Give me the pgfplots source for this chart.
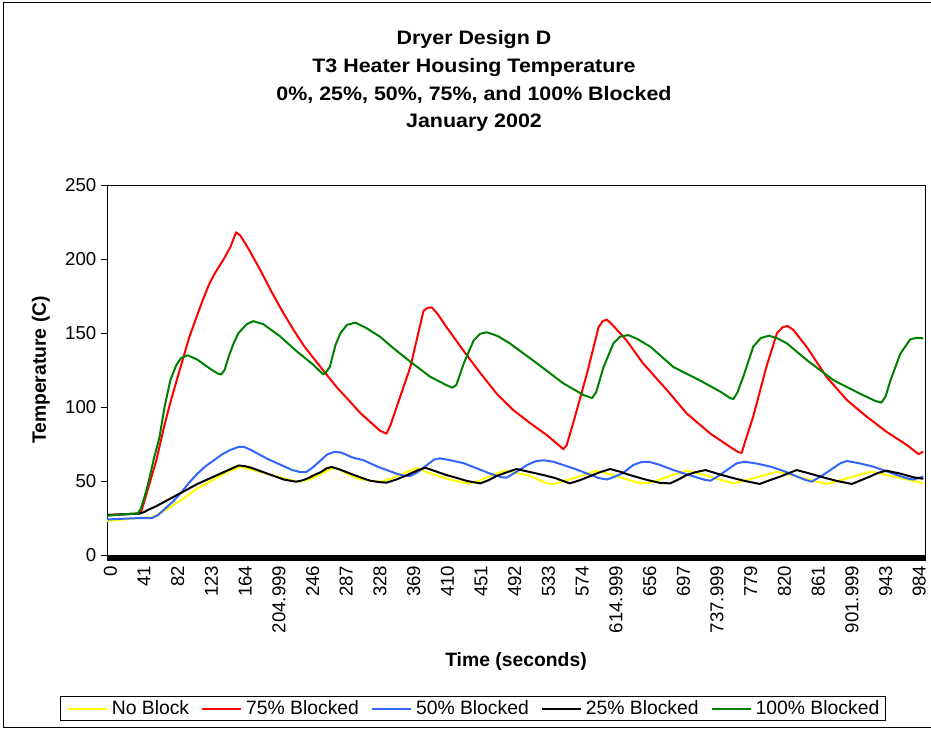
\documentclass[border=0pt]{standalone}
\usepackage{fontspec}
\setmainfont{Liberation Sans}
\newfontfamily\widefont[FakeStretch=1.1]{Liberation Sans}
\usepackage{pgfplots}
\pgfplotsset{compat=1.18}
\definecolor{cyel}{RGB}{255,255,0}
\definecolor{cred}{RGB}{255,0,0}
\definecolor{cblue}{RGB}{51,102,255}
\definecolor{cgreen}{RGB}{0,128,0}
\begin{document}
\begin{tikzpicture}
\useasboundingbox (0pt,0pt) rectangle (698.25pt,546.75pt);
\draw[line width=0.75pt] (699pt,544.5pt) -- (2.25pt,544.5pt) -- (2.25pt,1.1pt) -- (699pt,1.1pt);
\node[font=\widefont\bfseries\fontsize{14.6}{16}\selectfont, anchor=base] at (355.5pt,513pt) {Dryer Design D};
\node[font=\widefont\bfseries\fontsize{14.6}{16}\selectfont, anchor=base] at (355.5pt,492pt) {T3 Heater Housing Temperature};
\node[font=\widefont\bfseries\fontsize{14.6}{16}\selectfont, anchor=base] at (355.5pt,471.5pt) {0\%, 25\%, 50\%, 75\%, and 100\% Blocked};
\node[font=\widefont\bfseries\fontsize{14.6}{16}\selectfont, anchor=base] at (355.5pt,451pt) {January 2002};
\node[font=\bfseries\fontsize{14.5}{16}\selectfont, rotate=90] at (30.75pt,269.25pt) {Temperature (C)};
\node[font=\bfseries\fontsize{14.5}{16}\selectfont, anchor=base] at (387pt,47.25pt) {Time (seconds)};
\begin{axis}[
  at={(80.25pt,130.5pt)}, anchor=south west, scale only axis,
  width=613.5pt, height=277.5pt,
  xmin=0, xmax=995, ymin=0, ymax=250,
  axis line style={line width=0.75pt},
  tick align=outside, xtick pos=bottom, ytick pos=left,
  major tick length=4.5pt, minor tick length=4.5pt,
  every tick/.append style={draw=black, line width=0.45pt},
  xtick={0,41,...,984},
  xticklabels={0,41,82,123,164,204.999,246,287,328,369,410,451,492,533,574,614.999,656,697,737.999,779,820,861,901.999,943,984},
  minor x tick num=40,
  extra x ticks={985,986,987,988,989,990,991,992,993,994,995},
  extra x tick labels={},
  ytick={0,50,...,250}, yticklabels={0,50,100,150,200,250},
  ticklabel style={font=\fontsize{14}{16}\selectfont},
  xticklabel style={rotate=90, anchor=east, yshift=-2.5pt},
  every axis plot/.append style={line width=1.5pt, line join=round, no markers},
  legend columns=5,
  legend style={at={(axis description cs:0.4475,-0.415)}, anchor=center, draw=black, line width=0.75pt,
    font=\fontsize{14.5}{16}\selectfont, inner xsep=5pt, inner ysep=3pt,
    nodes={inner sep=0pt},
    /tikz/every odd column/.append style={column sep=3pt},
    /tikz/every even column/.append style={column sep=9pt}},
  legend image code/.code={\draw[#1] (0pt,0pt) -- (29.25pt,0pt);},
]
\addplot[cyel] coordinates {(0,23)(20,24)(40,25)(55,25.5)(62,27.5)(70,30)(80,33.5)(90,37)(100,41)(110,45)(120,48)(130,51)(140,54)(150,57)(162,59.5)(170,58.5)(180,57)(190,55.5)(200,54)(210,52.5)(220,51)(235,49.5)(242,50.5)(250,52)(258,54)(265,56)(272,58.3)(280,58.5)(292,55)(304,51.8)(318,50.3)(332,49.5)(345,51.5)(356,54)(366,56.5)(377,58.6)(390,55.8)(405,53)(420,50.5)(434,48.9)(442,48.4)(454,50.5)(466,53.4)(476,55.5)(486,57)(500,55.2)(515,53.4)(525,50.8)(535,48.4)(543,48)(555,49.8)(567,51.8)(582,54.5)(596,57)(612,54.5)(628,51.8)(645,49)(657,48.4)(667,50)(677,51.8)(690,54.5)(705,57)(720,55)(734,53)(748,50.5)(762,48.4)(774,50)(786,51.8)(800,54)(815,56.3)(832,54)(847,51.8)(862,49.8)(876,48)(888,49.8)(900,51.8)(914,54)(928,56.3)(945,54.5)(961,52.5)(978,50.5)(993,48.4)};
\addlegendentry{No Block}
\addplot[cred] coordinates {(0,27)(20,27.5)(38,28)(42,30)(50,45)(60,64)(70,88)(77,103)(90,128)(100,147)(109,161)(117,173)(125,184)(133,192)(141,199)(150,208)(157,218)(162,216)(172,207)(186,193)(200,178)(214,164)(227,152)(240,141)(254,131)(267,122)(280,113)(295,104)(308,96)(322,89)(332,84)(340,82)(345,88)(356,106)(369,127)(385,165)(390,167)(395,167.3)(402,163)(413,154)(433,138.5)(454,123)(474,109)(494,98)(515,89)(535,81)(550,74)(555,71.5)(559,74)(567,89)(584,123)(598,154)(603,158)(608,159)(614,156)(632,145)(652,129.5)(681,111.5)(705,95.7)(734,82)(758,73)(768,69.5)(772,69)(777,78)(786,93.5)(802,127)(815,150)(822,154)(828,154.7)(835,152)(851,140.7)(875,120.5)(900,104.7)(924,93.5)(948,83.3)(973,74.3)(987,68.2)(993,69.8)};
\addlegendentry{75\% Blocked}
\addplot[cblue] coordinates {(0,24)(20,24.5)(40,25)(55,25)(62,27)(70,31)(80,36)(90,42)(100,49)(110,55)(120,60)(130,64)(140,68)(150,71)(160,73)(167,73)(175,71)(185,68)(195,65)(205,62.5)(215,60)(225,57.5)(235,56)(242,56)(250,59)(260,64)(268,68)(277,69.7)(285,69.2)(298,66)(312,64)(330,59.5)(352,55)(362,53.5)(369,53.4)(378,56)(389,60.8)(398,64.5)(405,65.3)(418,64)(434,62)(450,58.5)(466,55)(480,52.5)(486,52.3)(496,55.5)(511,60.8)(522,63.5)(531,64)(543,63)(555,60.8)(570,58)(584,55)(598,52)(608,51)(618,53)(628,55.5)(640,60.8)(650,62.8)(659,63)(672,61)(689,57.4)(705,54.5)(717,52.5)(727,50.8)(734,50.2)(744,53.5)(754,57.4)(766,62)(776,63)(790,61.8)(807,59.7)(822,57)(835,54)(848,51)(857,49.5)(868,53)(880,57.4)(892,62)(900,63.5)(915,62)(932,59.7)(946,57)(961,54)(975,51.5)(981,51)(993,53)};
\addlegendentry{50\% Blocked}
\addplot[black] coordinates {(0,27)(20,27.5)(40,28)(45,29)(50,30.5)(60,33)(70,36)(80,39)(90,42)(100,45)(110,48)(120,50.5)(130,53)(140,55.5)(150,58)(160,60.5)(168,60)(175,59)(185,57)(195,55)(205,53)(215,51)(225,50)(230,49.5)(238,50.5)(245,52)(252,54)(260,56)(267,58.5)(273,59.5)(282,58)(296,55)(308,52.5)(320,50.2)(332,49.2)(340,48.9)(352,51)(365,54)(377,57)(387,59)(400,56.5)(413,54)(426,52)(438,50)(454,48.4)(464,50.5)(474,53.4)(487,56)(498,58.1)(515,56)(531,54)(545,52)(555,50)(563,48.4)(575,50.5)(588,53.4)(600,56)(612,58.1)(624,56.3)(636,54)(657,50.7)(672,48.8)(685,48.4)(695,51)(705,54)(716,56)(728,57.4)(742,55)(758,52.5)(776,50)(794,48)(806,50.5)(819,53)(830,55.5)(839,57.4)(855,55)(871,52.5)(888,50)(906,48)(917,50.5)(928,53)(938,55.5)(948,57)(965,55)(981,52.5)(993,51.5)};
\addlegendentry{25\% Blocked}
\addplot[cgreen] coordinates {(0,26.5)(20,27.5)(37,28)(41,31)(46,40)(50,48)(57,65)(64,80)(70,100)(77,118)(84,128)(90,133)(98,135)(110,132)(125,126)(135,122.5)(139,122)(143,125)(148,134)(154,143)(160,150)(170,156)(178,158)(190,156)(210,148)(230,138)(250,129)(263,122)(267,124)(271,127)(278,142)(284,150)(292,155.5)(302,157)(315,153.5)(332,147.5)(350,139)(369,130.6)(393,120.5)(412,115)(420,113)(425,115)(434,129.5)(446,145)(454,149.5)(462,150.5)(475,148)(490,143)(523,129.5)(555,116)(580,108)(590,106)(595,110)(604,127)(616,143)(624,147.5)(634,148.6)(645,146)(661,140.7)(689,127)(721,118)(746,110.4)(758,106)(762,105.4)(767,110)(774,120.5)(786,140.7)(795,146.5)(805,148.2)(815,146.5)(827,143)(851,131.8)(884,118)(916,109)(935,104)(942,103)(947,107)(953,118)(965,136)(977,145.7)(985,146.8)(993,146.4)};
\addlegendentry{100\% Blocked}
\end{axis}
\end{tikzpicture}
\end{document}
